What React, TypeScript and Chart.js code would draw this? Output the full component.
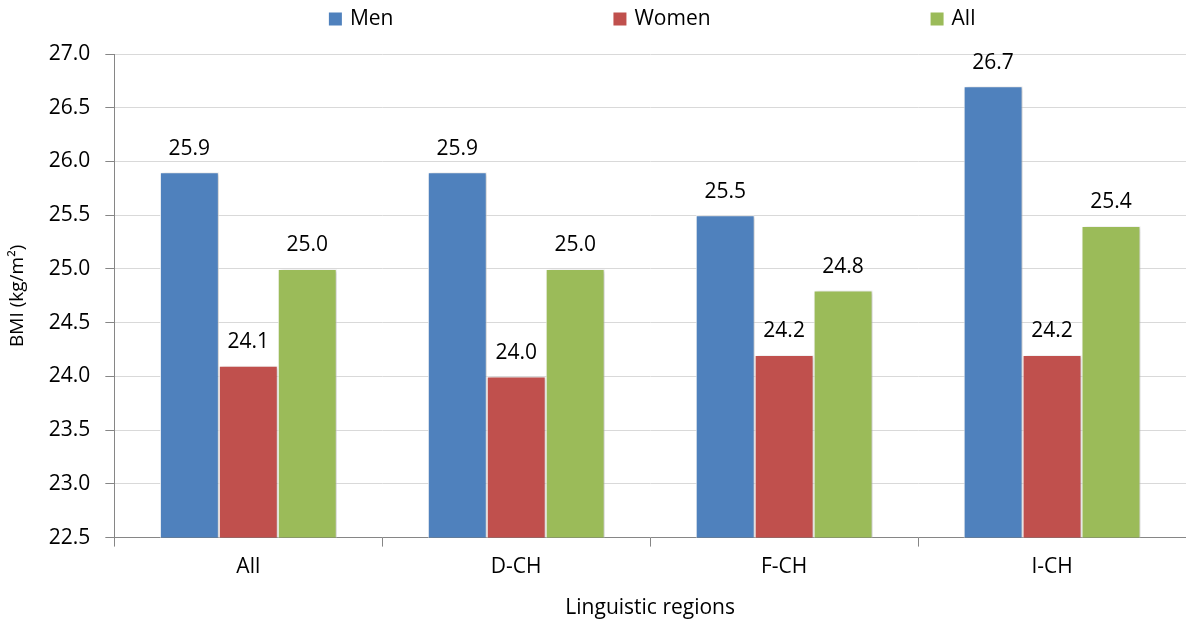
import React, { useEffect, useRef } from "react";
import { Chart, registerables } from "chart.js";

Chart.register(...registerables);

const categories = ["All", "D-CH", "F-CH", "I-CH"];
const menValues = [25.9, 25.9, 25.5, 26.7];
const womenValues = [24.1, 24.0, 24.2, 24.2];
const allValues = [25.0, 25.0, 24.8, 25.4];
const seriesLabels = ["Men", "Women", "All"];
const seriesColors = ["#4F81BD", "#C0504D", "#9BBB59"];
const yMin = 22.5;
const yMax = 27.0;
const yStep = 0.5;

const FONT = "'Open Sans', 'Noto Sans', sans-serif";

const shadowPlugin = {
  id: "barShadow",
  beforeDatasetsDraw(chart: any) {
    const ctx = chart.ctx;
    ctx.save();
    ctx.shadowColor = "rgba(0,0,0,0.22)";
    ctx.shadowBlur = 4;
    ctx.shadowOffsetX = 2;
    ctx.shadowOffsetY = 1;
  },
  afterDatasetsDraw(chart: any) {
    chart.ctx.restore();
  },
};

const labelPlugin = {
  id: "valueLabels",
  afterDatasetsDraw(chart: any) {
    const ctx = chart.ctx;
    ctx.save();
    ctx.font = `21px ${FONT}`;
    ctx.fillStyle = "#000";
    ctx.textAlign = "center";
    ctx.textBaseline = "bottom";
    chart.data.datasets.forEach((ds: any, i: number) => {
      const meta = chart.getDatasetMeta(i);
      meta.data.forEach((bar: any, j: number) => {
        ctx.fillText(Number(ds.data[j]).toFixed(1), bar.x, bar.y - 13);
      });
    });
    ctx.restore();
  },
};

const legendPlugin = {
  id: "customLegend",
  afterDraw(chart: any) {
    const ctx = chart.ctx;
    const box = 13;
    const gapText = 8;
    const gapItem = 220;
    ctx.save();
    ctx.font = `21px ${FONT}`;
    const items = chart.data.datasets.map((ds: any) => ({
      label: ds.label,
      color: ds.backgroundColor,
      w: box + gapText + ctx.measureText(ds.label).width,
    }));
    const total = items.reduce((s: number, it: any) => s + it.w, 0) + gapItem * (items.length - 1);
    const center = (chart.chartArea.left + chart.chartArea.right) / 2 + 2;
    let x = center - total / 2;
    const yMid = 19;
    items.forEach((it: any) => {
      ctx.fillStyle = it.color;
      ctx.fillRect(x, yMid - box / 2, box, box);
      ctx.fillStyle = "#000";
      ctx.textAlign = "left";
      ctx.textBaseline = "middle";
      ctx.fillText(it.label, x + box + gapText, yMid);
      x += it.w + gapItem;
    });
    ctx.restore();
  },
};

export default function App() {
  const ref = useRef<HTMLCanvasElement>(null);
  useEffect(() => {
    const seriesData = [menValues, womenValues, allValues];
    const chart = new Chart(ref.current!, {
      type: "bar",
      data: {
        labels: categories,
        datasets: seriesLabels.map((l, i) => ({
          label: l,
          data: seriesData[i],
          backgroundColor: seriesColors[i],
          borderColor: "#ffffff",
          borderWidth: 1,
          categoryPercentage: 0.66,
          barPercentage: 1,
        })),
      },
      options: {
        responsive: false,
        animation: false,
        layout: { padding: { top: 54, right: 0, left: 6, bottom: 6 } },
        plugins: {
          tooltip: { enabled: false },
          legend: { display: false },
        },
        scales: {
          x: {
            border: { color: "#868686", width: 1 },
            grid: {
              drawOnChartArea: false,
              tickLength: 9,
              tickColor: "#868686",
              offset: true,
            },
            ticks: {
              color: "#000",
              padding: 8,
              font: { family: FONT, size: 21 },
            },
            title: {
              display: true,
              text: "Linguistic regions",
              color: "#000",
              padding: { top: 8, bottom: 0 },
              font: { family: FONT, size: 21 },
            },
          },
          y: {
            min: yMin,
            max: yMax,
            border: { color: "#868686", width: 1 },
            grid: {
              color: "#d9d9d9",
              tickColor: "#868686",
              tickLength: 9,
            },
            ticks: {
              stepSize: yStep,
              autoSkip: false,
              color: "#000",
              padding: 15,
              font: { family: FONT, size: 21 },
              callback: (v: any) => Number(v).toFixed(1),
            },
            title: {
              display: true,
              text: "BMI (kg/m²)",
              color: "#000",
              padding: { top: 0, bottom: 5 },
              font: { family: FONT, size: 19 },
            },
          },
        },
      },
      plugins: [shadowPlugin, labelPlugin, legendPlugin],
    });
    return () => chart.destroy();
  }, []);
  return (
    <div style={{ position: "fixed", left: 0, top: 0, width: 1186, height: 627, background: "#fff" }}>
      <canvas ref={ref} width={1186} height={627} />
    </div>
  );
}
